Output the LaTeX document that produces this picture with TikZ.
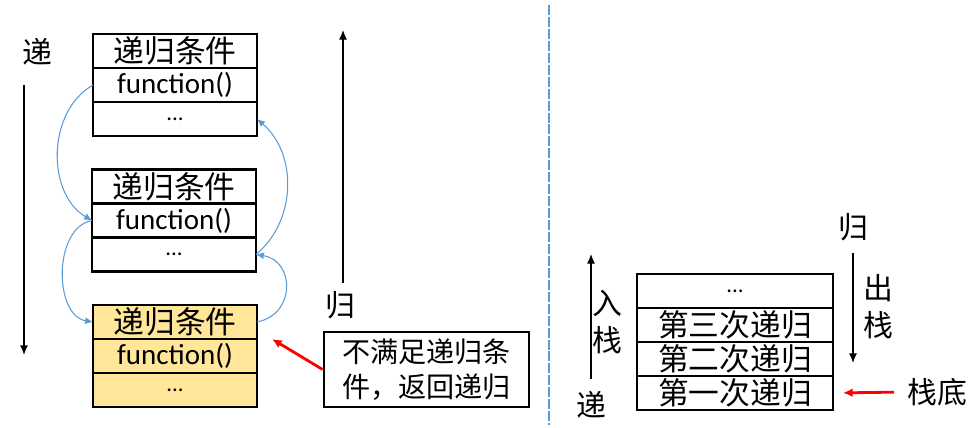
\documentclass[tikz,border=0pt]{standalone}
\usepackage{fontspec}
\setmainfont{Carlito}
\newfontfamily\cjk{Noto Sans CJK SC}
\usepackage{xcolor}
\usepackage{tikz}
\usetikzlibrary{arrows.meta,positioning}
\definecolor{lineblue}{HTML}{5B9BD5}
\definecolor{baseyellow}{HTML}{FFE699}

\begin{document}
\begin{tikzpicture}[x=0.02cm, y=0.02cm,
    cell/.style={rectangle, draw, line width=1.6pt, outer sep=0pt, inner sep=0pt, minimum width=3.28cm, minimum height=0.68cm, font=\cjk\fontsize{17.5}{20}\selectfont},
    base/.style={cell, fill=baseyellow},
    stackcell/.style={cell, minimum width=3.92cm},
    fn/.style={font=\rmfamily\fontsize{16.5}{18}\selectfont},
    dots/.style={font=\rmfamily\fontsize{13}{14}\selectfont},
    sidetext/.style={inner sep=0pt, font=\cjk\fontsize{17}{20}\selectfont},
    call/.style={-{Latex[length=4.5pt,width=4pt]}, lineblue, line width=0.6pt},
    flow/.style={-{Latex[length=5.5pt,width=4.5pt]}, line width=0.6pt},
    hint/.style={-{Latex[length=5.5pt,width=5pt]}, red, line width=1.6pt},
    node distance=0pt]

  \useasboundingbox (0,0) rectangle (978,-428);

  % left: the chain of calls
  \node[cell] (c1) at (175,-51) {递归条件};
  \node[cell, fn, below=of c1] (f1) {function()};
  \node[cell, dots, below=of f1] (d1) {...};

  \node[cell] (c2) at (174,-186.5) {递归条件};
  \node[cell, fn, below=of c2] (f2) {function()};
  \node[cell, dots, below=of f2] (d2) {...};

  \node[base] (c3) at (175,-322) {递归条件};
  \node[base, fn, below=of c3] (f3) {function()};
  \node[base, dots, below=of f3] (d3) {...};

  \draw[call] (f1.west) to[bend right=60] (f2.west);
  \draw[call] (f2.west) to[bend right=80] (c3.west);
  \draw[call] (c3.east) to[bend right=80, looseness=1.5] (d2.east);
  \draw[call] (d2.east) to[bend right=50] (d1.east);

  \node[sidetext] (di) at (37,-52) {递};
  \coordinate (ditop) at (24,-85);
  \coordinate (dibot) at (24,-355);
  \draw[flow] (ditop) -- (dibot);

  \coordinate (guibot) at (343,-283);
  \coordinate (guitop) at (343,-30);
  \draw[flow] (guibot) -- (guitop);
  \node[sidetext] (gui) at (340,-305) {归};

  \node[draw, line width=1.6pt, minimum width=4.1cm, minimum height=1.5cm, align=center, inner sep=0pt, font=\cjk\fontsize{16}{20}\selectfont] (note) at (426.5,-369.5) {不满足递归条\\件，返回递归};
  \coordinate (tip) at (272,-339);
  \draw[hint] (note.west) -- (tip);

  % divider
  \draw[lineblue, line width=1.7pt, dash pattern=on 5.7pt off 1.1pt] (549,-5) -- (549,-425);

  % right: the stack
  \node[stackcell] (s1) at (735,-393) {第一次递归};
  \node[stackcell, above=of s1] (s2) {第二次递归};
  \node[stackcell, above=of s2] (s3) {第三次递归};
  \node[stackcell, dots, above=of s3] (s4) {...};

  \node[sidetext] (ru) at (607,-303) {入};
  \node[sidetext] (ruz) at (607,-340) {栈};
  \node[sidetext] (di2) at (591,-405) {递};
  \coordinate (inbot) at (591,-379);
  \coordinate (intop) at (591,-254);
  \draw[flow] (inbot) -- (intop);

  \node[sidetext] (gui2) at (853,-227) {归};
  \node[sidetext] (chu) at (878,-288) {出};
  \node[sidetext] (chuz) at (878,-325) {栈};
  \coordinate (outtop) at (853,-253);
  \coordinate (outbot) at (853,-363);
  \draw[flow] (outtop) -- (outbot);

  \node[sidetext] (bot) at (937,-392) {栈底};
  \draw[hint, shorten <=13*0.02cm, shorten >=10*0.02cm] (bot.west) -- (s1.east);
\end{tikzpicture}
\end{document}
